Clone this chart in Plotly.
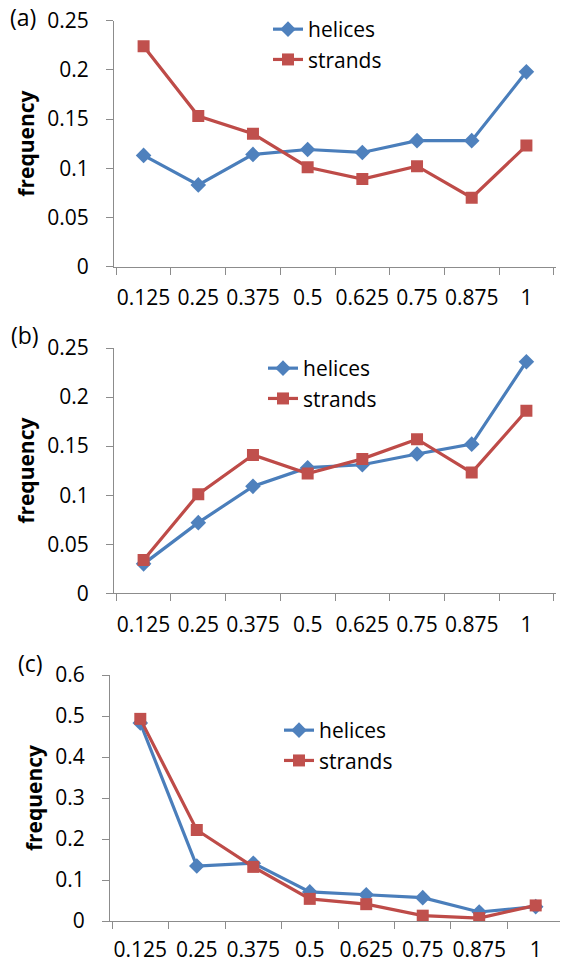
import plotly.graph_objects as go

categories = ["0.125", "0.25", "0.375", "0.5", "0.625", "0.75", "0.875", "1"]

a_helices = [0.113, 0.083, 0.114, 0.119, 0.116, 0.128, 0.128, 0.198]
a_strands = [0.224, 0.153, 0.135, 0.101, 0.089, 0.102, 0.070, 0.123]

b_helices = [0.030, 0.072, 0.109, 0.128, 0.131, 0.142, 0.152, 0.236]
b_strands = [0.034, 0.101, 0.141, 0.122, 0.137, 0.157, 0.123, 0.186]

c_helices = [0.483, 0.134, 0.141, 0.071, 0.064, 0.057, 0.022, 0.035]
c_strands = [0.493, 0.222, 0.132, 0.054, 0.041, 0.013, 0.007, 0.038]

panel_labels = ["(a)", "(b)", "(c)"]
y_ranges = [[0, 0.25], [0, 0.25], [0, 0.6]]
y_dticks = [0.05, 0.05, 0.1]

# the page has an 8px body margin, so the figure is drawn 8px in from the corner
OFF = 8
W, H = 568 - OFF, 961 - OFF
FONT = "Open Sans"
FS = 21
BLUE_LINE, BLUE_MK = "#4a7ebb", "#4f81bd"
RED_LINE, RED_MK = "#be4b48", "#c0504d"
AXIS = "#8c8c8c"

def px_x(p):
    return (p - OFF) / W

def px_y(p):
    return 1 - (p - OFF) / H

# plot-area boxes in window pixels (left, right, top, bottom)
boxes = [(114, 556, 20.7, 266.5), (114, 556, 348, 593.3), (110, 566, 675, 921)]
xlabel_standoff = [12, 12, 10]
legend_pos = [(268, 9), (263, 348), (279, 710)]
label_pos = [(23, 17), (25, 335), (30, 663)]

data = [(a_helices, a_strands), (b_helices, b_strands), (c_helices, c_strands)]

fig = go.Figure()
for i, (hel, strd) in enumerate(data):
    sfx = "" if i == 0 else str(i + 1)
    leg = "legend" if i == 0 else f"legend{i + 1}"
    fig.add_trace(go.Scatter(
        x=categories, y=hel, name="helices", mode="lines+markers",
        line=dict(color=BLUE_LINE, width=3.2),
        marker=dict(symbol="diamond", size=12, color=BLUE_MK),
        xaxis="x" + sfx, yaxis="y" + sfx, legend=leg))
    fig.add_trace(go.Scatter(
        x=categories, y=strd, name="strands", mode="lines+markers",
        line=dict(color=RED_LINE, width=3.2),
        marker=dict(symbol="square", size=12, color=RED_MK),
        xaxis="x" + sfx, yaxis="y" + sfx, legend=leg))

layout = dict(
    width=W, height=H,
    margin=dict(l=0, r=0, t=0, b=0, autoexpand=False),
    paper_bgcolor="white", plot_bgcolor="white",
    font=dict(family=FONT, size=FS, color="#000000"),
    annotations=[],
)
for i, (l, r, t, b) in enumerate(boxes):
    sfx = "" if i == 0 else str(i + 1)
    layout["xaxis" + sfx] = dict(
        domain=[px_x(l), px_x(r)], anchor="y" + sfx,
        type="category", categoryorder="array", categoryarray=categories,
        showline=True, linecolor=AXIS, linewidth=1,
        ticks="outside", tickson="boundaries", ticklen=7, tickcolor=AXIS,
        showgrid=False, zeroline=False, ticklabelstandoff=xlabel_standoff[i], tickangle=0,
        ticklabeloverflow="allow",
        tickfont=dict(family=FONT, size=FS), fixedrange=True, automargin=False,
    )
    layout["yaxis" + sfx] = dict(
        domain=[px_y(b), px_y(t)], anchor="x" + sfx,
        range=y_ranges[i], dtick=y_dticks[i], tick0=0,
        showline=True, linecolor=AXIS, linewidth=1,
        ticks="outside", ticklen=7, tickcolor=AXIS,
        showgrid=False, zeroline=False, ticklabelstandoff=13,
        ticklabeloverflow="allow",
        tickfont=dict(family=FONT, size=FS),
        title=dict(text="<b>frequency</b>", font=dict(family=FONT, size=FS), standoff=6),
        fixedrange=True, automargin=False,
    )
    lx, ly = legend_pos[i]
    key = "legend" if i == 0 else f"legend{i + 1}"
    layout[key] = dict(
        x=px_x(lx), y=px_y(ly), xanchor="left", yanchor="top",
        bgcolor="rgba(0,0,0,0)", font=dict(family=FONT, size=FS),
        itemwidth=30, tracegroupgap=0,
    )
    ax, ay = label_pos[i]
    layout["annotations"].append(dict(
        text=panel_labels[i], x=px_x(ax), y=px_y(ay), xref="paper", yref="paper",
        xanchor="center", yanchor="middle", showarrow=False,
        font=dict(family=FONT, size=23)))

fig.update_layout(**layout)
fig.write_html("out.html")
